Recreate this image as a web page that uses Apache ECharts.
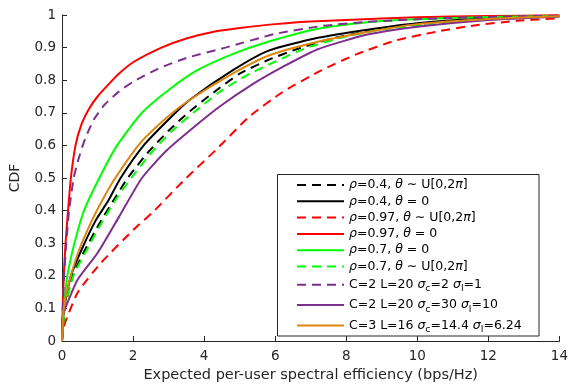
<!DOCTYPE html>
<html>
<head>
<meta charset="utf-8">
<script src="https://cdn.jsdelivr.net/npm/echarts@6/dist/echarts.min.js"></script>
<style>
html,body{margin:0;padding:0;background:#fff;}
#chart{width:571px;height:388px;}
</style>
</head>
<body>
<div id="chart"></div>
<script>
// ---- data (x: bps/Hz, y: CDF) ----
var rho04Uniform = [[0,0],[0.08,0.1],[0.3,0.2],[0.65,0.28],[1.05,0.36],[1.5,0.44],[1.85,0.5],[2.4,0.576],[3.0,0.645],[3.6,0.705],[4.3,0.765],[5.0,0.82],[5.8,0.862],[6.6,0.895],[7.5,0.925],[8.6,0.95],[10,0.972],[12,0.988],[14,0.996]];
var rho04Zero = [[0,0],[0.06,0.1],[0.25,0.2],[0.55,0.28],[0.95,0.37],[1.3,0.43],[1.65,0.5],[2.3,0.6],[3.1,0.69],[3.6,0.74],[4.8,0.83],[5.8,0.89],[7.2,0.93],[8.6,0.955],[10,0.975],[12,0.99],[14,0.997]];
var rho097Uniform = [[0,0],[0.05,0.04],[0.1,0.06],[0.45,0.15],[1.1,0.24],[2.0,0.34],[2.6,0.4],[3.45,0.495],[4.34,0.587],[5.26,0.687],[6.2,0.763],[7.3,0.83],[8.3,0.88],[9.4,0.922],[10.5,0.948],[11.6,0.968],[12.8,0.982],[14,0.99]];
var rho097Zero = [[0,0],[0.02,0.1],[0.05,0.2],[0.1,0.3],[0.17,0.4],[0.25,0.5],[0.38,0.6],[0.55,0.665],[0.75,0.71],[1.0,0.75],[1.375,0.795],[1.6,0.82],[2.0,0.855],[2.8,0.9],[3.5,0.928],[4.24,0.948],[5.0,0.96],[6.0,0.972],[7,0.98],[8,0.985],[10,0.993],[12,0.997],[14,0.999]];
var rho07Zero = [[0,0],[0.05,0.1],[0.15,0.2],[0.35,0.3],[0.62,0.4],[1.05,0.5],[1.55,0.6],[2.25,0.7],[3.0,0.77],[3.8,0.83],[4.8,0.88],[5.8,0.918],[7.2,0.958],[8.6,0.978],[10,0.987],[12,0.994],[14,0.997]];
var rho07Uniform = [[0,0],[0.08,0.1],[0.32,0.2],[0.7,0.28],[1.1,0.36],[1.55,0.44],[1.95,0.5],[2.5,0.576],[3.1,0.645],[3.75,0.705],[4.45,0.765],[5.2,0.815],[5.9,0.852],[6.9,0.9],[8.0,0.934],[9,0.955],[10.5,0.972],[12,0.986],[14,0.996]];
var c2s2 = [[0,0],[0.02,0.1],[0.06,0.2],[0.12,0.3],[0.2,0.4],[0.33,0.5],[0.47,0.56],[0.65,0.62],[0.9,0.68],[1.2,0.725],[1.6,0.765],[2.0,0.795],[2.7,0.835],[3.5,0.868],[4.6,0.9],[6.0,0.942],[7.3,0.966],[8.6,0.979],[10,0.987],[12,0.994],[14,0.998]];
var c2s30 = [[0,0],[0.03,0.08],[0.2,0.13],[0.45,0.19],[1.0,0.27],[1.6,0.38],[2.25,0.5],[2.95,0.585],[3.7,0.655],[4.45,0.72],[5.4,0.79],[6.2,0.84],[7.2,0.895],[8.6,0.94],[10,0.964],[12,0.985],[14,0.995]];
var c3s14 = [[0,0],[0.05,0.1],[0.2,0.18],[0.45,0.27],[0.8,0.36],[1.15,0.435],[1.5,0.5],[2.2,0.607],[3.0,0.69],[3.6,0.74],[4.8,0.82],[5.8,0.875],[7.2,0.918],[8.6,0.948],[10,0.972],[12,0.988],[14,0.996]];

var seriesNames = ['s1','s2','s3','s4','s5','s6','s7','s8','s9'];
var legendLabels = [
  '{i|ρ}=0.4, {i|θ} ∼ U[0,2{i|π}]',
  '{i|ρ}=0.4, {i|θ} = 0',
  '{i|ρ}=0.97, {i|θ} ∼ U[0,2{i|π}]',
  '{i|ρ}=0.97, {i|θ} = 0',
  '{i|ρ}=0.7, {i|θ} = 0',
  '{i|ρ}=0.7, {i|θ} ∼ U[0,2{i|π}]',
  'C=2 L=20 {i|σ}{sub|c}=2 {i|σ}{sub|l}=1',
  'C=2 L=20 {i|σ}{sub|c}=30 {i|σ}{sub|l}=10',
  'C=3 L=16 {i|σ}{sub|c}=14.4 {i|σ}{sub|l}=6.24'
];
var seriesData = [rho04Uniform, rho04Zero, rho097Uniform, rho097Zero, rho07Zero, rho07Uniform, c2s2, c2s30, c3s14];
var colors = ['#000000','#000000','#ff0000','#ff0000','#00ff00','#00ff00','#7e2f8e','#7e2f8e','#dd8511'];
var dashed = [true,false,true,false,false,true,true,false,false];

var chart = echarts.init(document.getElementById('chart'));
var series = seriesData.map(function(d,i){
  return {
    name: seriesNames[i], type:'line', data:d, showSymbol:false, symbol:'none',
    smooth:0.2, animation:false,
    lineStyle:{color:colors[i], width:2, type: dashed[i] ? [9,6] : 'solid'},
    itemStyle:{color:colors[i], opacity:0}
  };
});
var FONT = 'DejaVu Sans';
chart.setOption({
  animation:false,
  grid:{left:61, right:6, top:15, bottom:46.5},
  xAxis:{type:'value', min:0, max:14, interval:2,
    name:'Expected per-user spectral efficiency (bps/Hz)', nameLocation:'middle', nameGap:27,
    nameTextStyle:{fontFamily:FONT, fontSize:14.5, color:'#262626'},
    axisLine:{lineStyle:{color:'#262626', width:1}},
    axisTick:{inside:true, length:5, lineStyle:{color:'#262626'}},
    axisLabel:{fontFamily:FONT, fontSize:13.5, color:'#262626', margin:8},
    splitLine:{show:false}},
  yAxis:{type:'value', min:0, max:1, interval:0.1,
    name:'CDF', nameLocation:'middle', nameGap:40,
    nameTextStyle:{fontFamily:FONT, fontSize:14, color:'#262626'},
    axisLine:{show:true, lineStyle:{color:'#262626', width:1}},
    axisTick:{show:true, inside:true, length:5, lineStyle:{color:'#262626'}},
    axisLabel:{fontFamily:FONT, fontSize:13.5, color:'#262626', margin:6,
      formatter:function(v){return Math.round(v*10)/10 + '';}},
    splitLine:{show:false}},
  legend:{
    orient:'vertical', left:296, top:178, itemWidth:47, itemHeight:14, itemGap:2.3,
    padding:0,
    data: seriesNames,
    itemStyle:{opacity:0, borderWidth:0},
    formatter:function(n){ return legendLabels[seriesNames.indexOf(n)]; },
    textStyle:{fontFamily:FONT, fontSize:12.5, color:'#000', lineHeight:14,
      rich:{
        i:{fontFamily:FONT, fontSize:12.5, fontStyle:'italic', color:'#000', lineHeight:14},
        sub:{fontFamily:FONT, fontSize:9.5, color:'#000', lineHeight:18, verticalAlign:'bottom'}
      }}
  },
  graphic:[{type:'rect', shape:{x:277.5, y:174.5, width:261.5, height:161.5},
    style:{fill:'#fff', stroke:'#262626', lineWidth:1}, z:-1, zlevel:0}],
  series: series
});
</script>
</body>
</html>
